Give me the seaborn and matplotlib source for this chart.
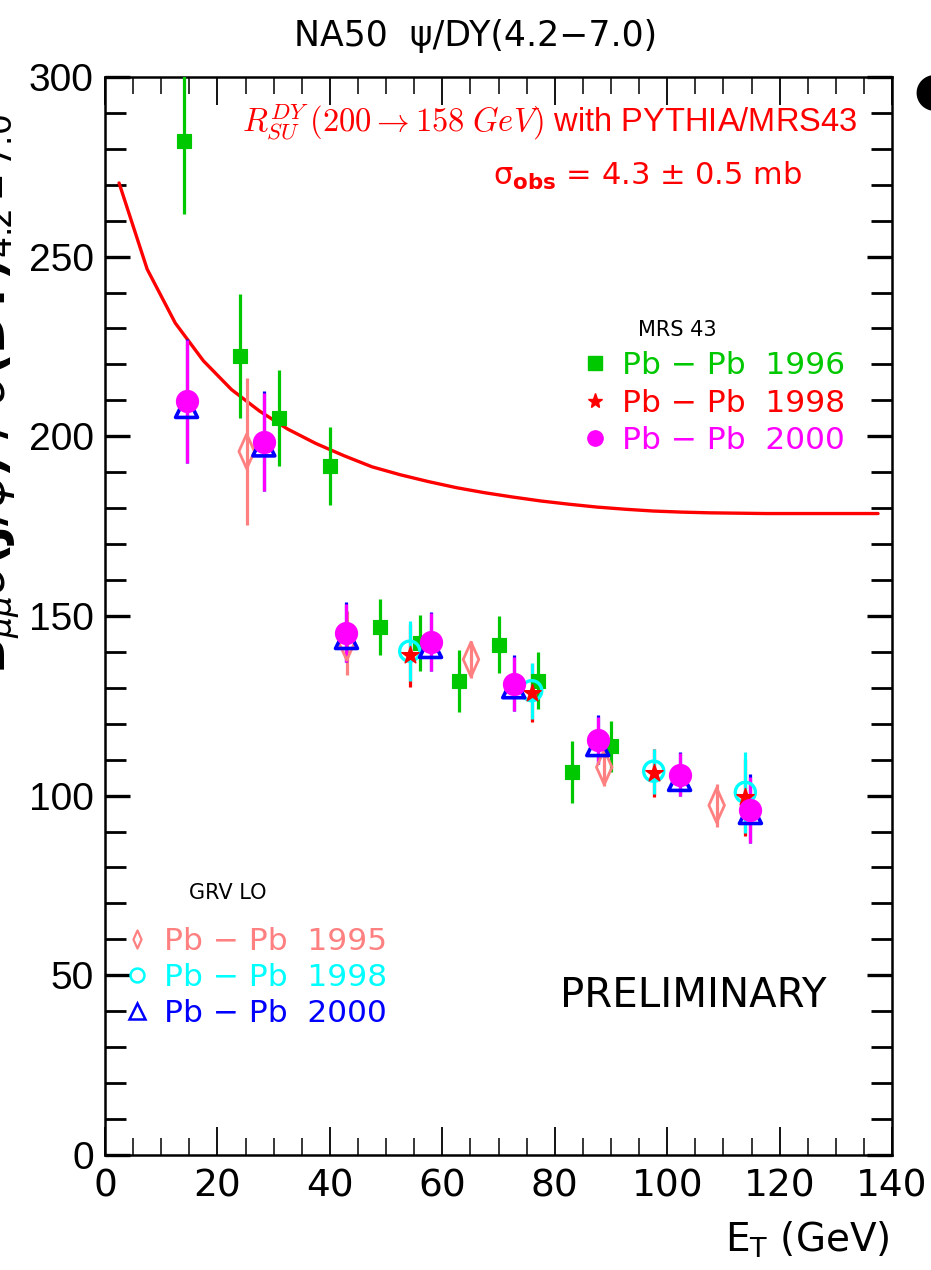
import matplotlib
matplotlib.use("Agg")
import matplotlib.pyplot as plt
from matplotlib.lines import Line2D
from matplotlib.path import Path
from matplotlib.ticker import MultipleLocator
import numpy as np
import pandas as pd
import seaborn as sns

# ---------------- data ----------------
# MRS 43 : Pb-Pb 1996
x96 = [14.1, 24.0, 31.0, 40.1, 49.0, 56.0, 63.0, 70.0, 77.0, 83.0, 90.0]
y96 = [282.2, 222.3, 205.1, 191.7, 146.8, 142.5, 132.0, 142.0, 132.0, 106.6, 113.7]
e96 = [20.3, 17.3, 13.4, 10.9, 7.8, 7.9, 8.6, 7.9, 7.9, 8.6, 7.0]
# MRS 43 : Pb-Pb 1998
x98m = [54.2, 75.9, 97.6, 113.9]
y98m = [139.0, 128.6, 106.3, 99.5]
e98m = [8.8, 8.0, 6.6, 10.8]
# MRS 43 : Pb-Pb 2000
x00m = [14.5, 28.25, 42.95, 57.9, 72.7, 87.65, 102.2, 114.8]
y00m = [209.7, 198.4, 145.3, 142.7, 131.1, 115.4, 105.8, 96.1]
e00m = [17.0, 13.7, 8.1, 8.0, 7.6, 6.6, 6.0, 9.2]
# GRV LO : Pb-Pb 1995
x95 = [25.2, 43.0, 65.1, 88.8, 108.8]
y95 = [195.8, 142.5, 137.9, 107.9, 97.3]
e95 = [20.5, 9.0, 5.2, 5.3, 6.0]
# GRV LO : Pb-Pb 1998
x98g = [54.2, 75.9, 97.6, 113.9]
y98g = [140.2, 129.2, 106.8, 100.9]
e98g = [8.4, 7.8, 6.3, 11.3]
# GRV LO : Pb-Pb 2000 (asymmetric: lower, upper)
x00g = [14.5, 28.25, 42.95, 57.9, 72.7, 87.65, 102.2, 114.8]
y00g = [208.3, 197.6, 144.0, 141.5, 130.3, 114.2, 104.5, 95.3]
e00g_lo = [15.6, 12.9, 6.8, 6.8, 6.8, 5.4, 4.7, 8.4]
e00g_hi = [18.8, 15.0, 9.8, 9.6, 8.8, 8.2, 7.7, 10.8]
# Drell-Yan rescaling curve
xc = [2.5, 7.5, 12.5, 17.5, 22.5, 27.5, 32.5, 37.5, 42.5, 47.5, 52.5, 57.5,
      62.5, 67.5, 72.5, 77.5, 82.5, 87.5, 92.5, 97.5, 102.5, 107.5, 112.5,
      117.5, 122.5, 127.5, 132.5, 137.5]
yc = [270.5, 246.5, 231.5, 221.0, 213.0, 207.0, 202.0, 198.0, 194.6, 191.5,
      189.3, 187.4, 185.7, 184.3, 183.1, 182.0, 181.1, 180.3, 179.7, 179.2,
      178.9, 178.7, 178.6, 178.5, 178.5, 178.5, 178.5, 178.5]

xticks = [0, 20, 40, 60, 80, 100, 120, 140]
yticks = [0, 50, 100, 150, 200, 250, 300]
lab96, lab98m, lab00m = "Pb − Pb  1996", "Pb − Pb  1998", "Pb − Pb  2000"
lab95, lab98g, lab00g = "Pb − Pb  1995", "Pb − Pb  1998", "Pb − Pb  2000"

# ---------------- style ----------------
sns.set_theme(style="white")
plt.rcParams["font.family"] = ["Liberation Sans", "DejaVu Sans"]
plt.rcParams["mathtext.fontset"] = "cm"
plt.rcParams["text.color"] = "black"
NARROW = ["DejaVu Sans"]

GREEN = "#00c800"
RED = "#ff0000"
MAG = "#ff00ff"
SALMON = "#ff8080"
CYAN = "#00ffff"
BLUE = "#0000ff"

# tall thin diamond marker
diamond = Path([(0, 1), (0.45, 0), (0, -1), (-0.45, 0), (0, 1)],
               [Path.MOVETO, Path.LINETO, Path.LINETO, Path.LINETO, Path.CLOSEPOLY])

fig = plt.figure(figsize=(9.31, 12.70), dpi=100)
ax = fig.add_axes([0.1128, 0.0906, 0.8454, 0.8488])

# curve
sns.lineplot(x=xc, y=yc, ax=ax, color=RED, lw=2.4, sort=False, zorder=2)

EW = 2.3
def errs(x, y, e, c, z):
    ax.errorbar(x, y, yerr=e, fmt="none", ecolor=c, elinewidth=EW, capsize=0, zorder=z)

errs(x96, y96, e96, GREEN, 3)
errs(x95, y95, e95, SALMON, 3)
errs(x98m, y98m, e98m, RED, 4)
errs(x98g, y98g, e98g, CYAN, 4.5)
errs(x00g, y00g, [e00g_lo, e00g_hi], BLUE, 5)
errs(x00m, y00m, e00m, MAG, 5.5)

sns.scatterplot(x=x96, y=y96, ax=ax, marker="s", s=105, color=GREEN, edgecolor=GREEN, zorder=6)
sns.scatterplot(x=x95, y=y95, ax=ax, marker=diamond, s=620, facecolor="none",
                edgecolor=SALMON, linewidth=2.0, zorder=6)
sns.scatterplot(x=x98g, y=y98g, ax=ax, marker="o", s=210, facecolor="none",
                edgecolor=CYAN, linewidth=2.4, zorder=6.5)
sns.scatterplot(x=x98m, y=y98m, ax=ax, marker="*", s=170, color=RED, edgecolor=RED, zorder=7)
sns.scatterplot(x=x00g, y=y00g, ax=ax, marker="^", s=250, facecolor="none",
                edgecolor=BLUE, linewidth=2.6, zorder=7)
sns.scatterplot(x=x00m, y=y00m, ax=ax, marker="o", s=240, color=MAG, edgecolor=MAG, zorder=8)

# axes
ax.set_xlim(0, 140)
ax.set_ylim(0, 300)
ax.set_xticks(xticks)
ax.set_yticks(yticks)
ax.xaxis.set_minor_locator(MultipleLocator(5))
ax.yaxis.set_minor_locator(MultipleLocator(10))
ax.tick_params(which="major", axis="x", direction="in", length=20, width=1.3,
               top=True, bottom=True, color="black", pad=10, labelcolor="black",
               labelsize=27)
ax.tick_params(which="minor", axis="x", direction="in", length=12, width=1.1,
               top=True, bottom=True, color="black")
ax.tick_params(which="major", axis="y", direction="in", length=18, width=2.4,
               left=True, right=True, color="black", pad=8, labelcolor="black",
               labelsize=28)
ax.tick_params(which="minor", axis="y", direction="in", length=15, width=2.0,
               left=True, right=True, color="black")
for lbl in ax.get_xticklabels():
    lbl.set_fontfamily(NARROW)
for sp in ax.spines.values():
    sp.set_color("black")
    sp.set_linewidth(1.8)
ax.set_xlabel("")
ax.set_ylabel("")

# labels / texts
fig.text(0.511, 0.972, "NA50  ψ/DY(4.2−7.0)", ha="center", va="center",
         fontsize=25, family=NARROW, color="black")
fig.text(0.955, 0.024, r"E$_{\mathrm{T}}$ (GeV)", ha="right", va="center",
         fontsize=28, family=NARROW, color="black", math_fontfamily="dejavusans")
fig.text(0.024, 0.69, r"B$_{\mu\mu}\sigma$(J/$\psi$) / $\sigma$(DY)$_{4.2-7.0}$",
         ha="right", va="center", rotation=90, fontsize=34, family=NARROW,
         fontweight="bold", color="black", math_fontfamily="dejavusans")
fig.text(0.981, 0.928, "●", ha="left", va="center", fontsize=34, color="black",
         family=["DejaVu Sans"])

ax.text(0.565, 0.958, r"$R^{DY}_{SU}\,(200 \rightarrow 158\;GeV)$ with PYTHIA/MRS43",
        transform=ax.transAxes, ha="center", va="center", fontsize=23.5, color=RED)
ax.text(0.69, 0.908, r"σ$_{\mathbf{obs}}$ = 4.3 ± 0.5 mb", transform=ax.transAxes,
        ha="center", va="center", fontsize=22, color=RED, family=NARROW,
        math_fontfamily="dejavusans")
ax.text(0.747, 0.147, "PRELIMINARY", transform=ax.transAxes, ha="center",
        va="center", fontsize=29, color="black", family=NARROW)

# legend titles
ax.text(0.727, 0.765, "MRS 43", transform=ax.transAxes, ha="center", va="center",
        fontsize=15, color="black", family=NARROW)
ax.text(0.156, 0.243, "GRV LO", transform=ax.transAxes, ha="center", va="center",
        fontsize=15, color="black", family=NARROW)

# legends
def proxy(marker, fc, ec, ms, mew=1.0):
    return Line2D([], [], linestyle="none", marker=marker, markerfacecolor=fc,
                  markeredgecolor=ec, markersize=ms, markeredgewidth=mew)

h1 = [proxy("s", GREEN, GREEN, 10), proxy("*", RED, RED, 11), proxy("o", MAG, MAG, 11)]
leg1 = ax.legend(h1, [lab96, lab98m, lab00m], loc="upper left",
                 bbox_to_anchor=(0.603, 0.7455), frameon=False, handletextpad=0.35,
                 labelspacing=0.27, handlelength=1.0, borderaxespad=0, borderpad=0,
                 labelcolor=[GREEN, RED, MAG],
                 prop={"family": NARROW, "size": 22.5})
ax.add_artist(leg1)

h2 = [proxy(diamond, "none", SALMON, 13, 1.6), proxy("o", "none", CYAN, 10, 1.8),
      proxy("^", "none", BLUE, 11, 1.8)]
leg2 = ax.legend(h2, [lab95, lab98g, lab00g], loc="upper left",
                 bbox_to_anchor=(0.021, 0.2115), frameon=False, handletextpad=0.35,
                 labelspacing=0.22, handlelength=1.0, borderaxespad=0, borderpad=0,
                 labelcolor=[SALMON, CYAN, BLUE],
                 prop={"family": NARROW, "size": 22.5})

fig.savefig("out.png", dpi=100, facecolor="white")
